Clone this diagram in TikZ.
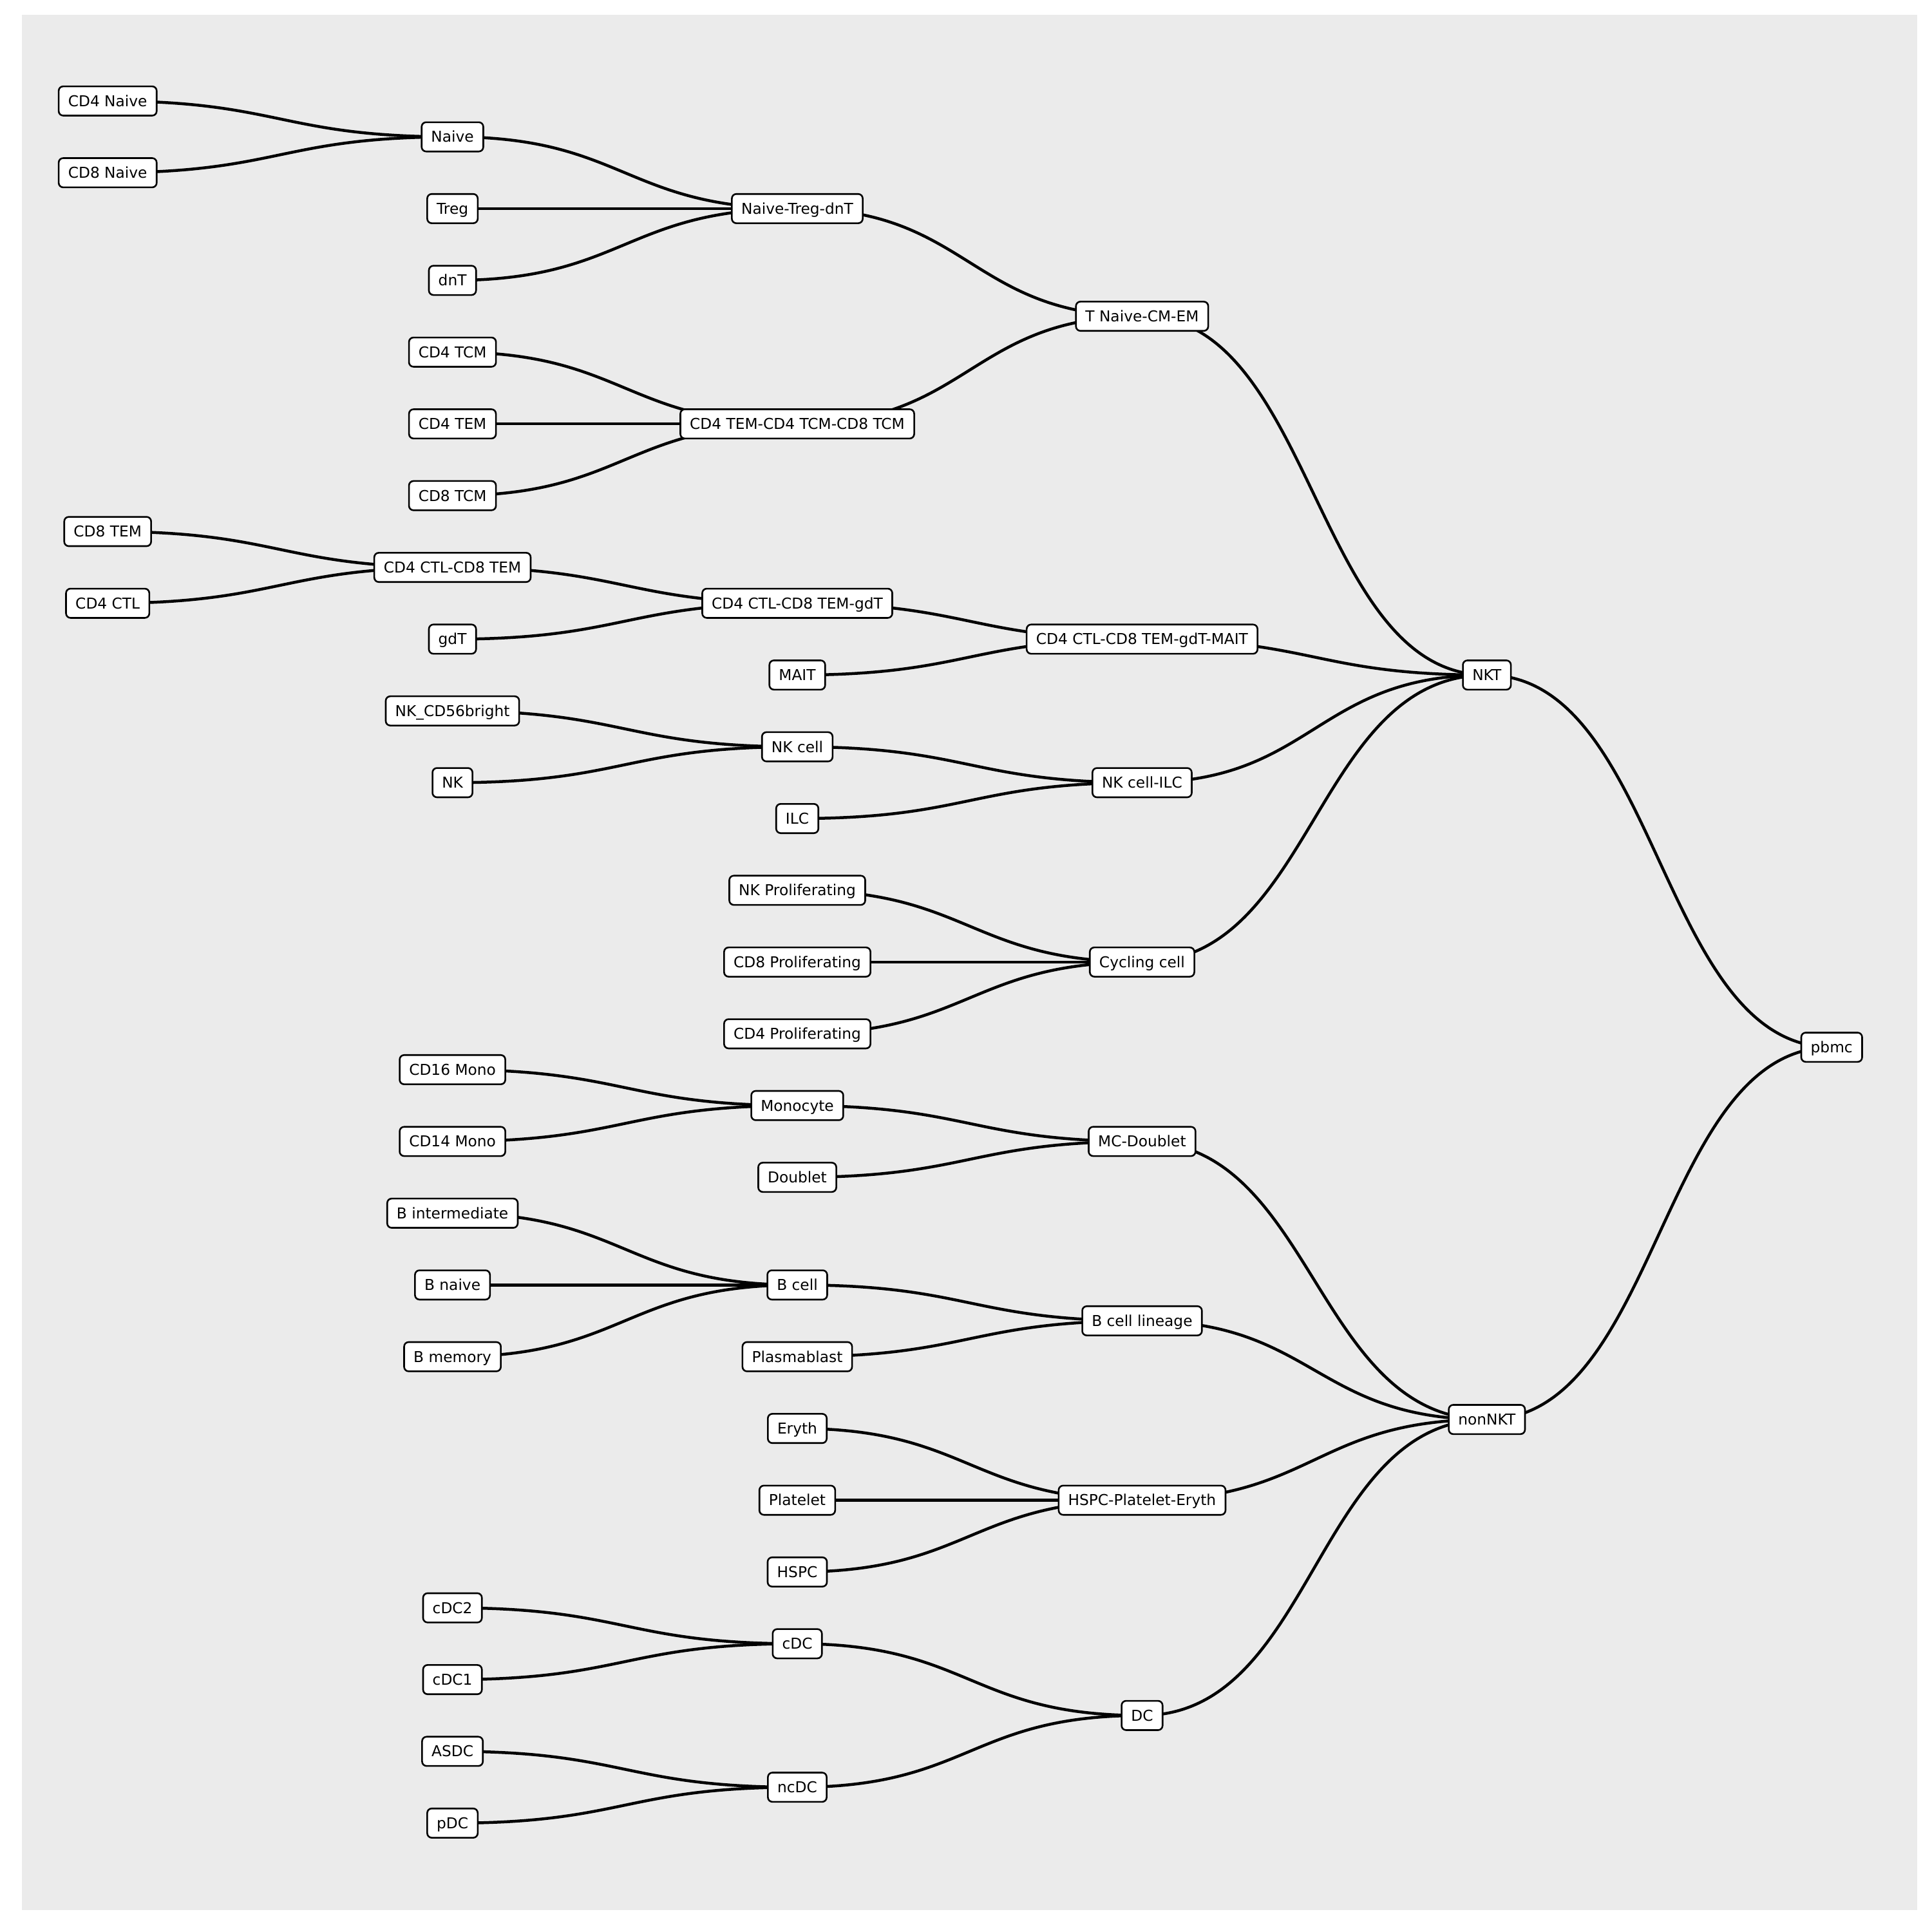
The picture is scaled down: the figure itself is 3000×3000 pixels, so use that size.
\documentclass[tikz,border=0pt]{standalone}
\usepackage{fontspec}
\setmainfont{DejaVu Sans}
\pgfdeclarelayer{bglayer}
\pgfdeclarelayer{edgelayer}
\pgfsetlayers{bglayer,edgelayer,main}
\definecolor{panelgray}{RGB}{235,235,235}
\tikzset{
  box/.style={draw=black, fill=white, line width=2.6pt, rounded corners=7pt,
    inner xsep=14.7pt, inner ysep=0pt, minimum height=45.4pt,
    text height=16.9pt, text depth=0pt,
    font=\fontsize{23.3pt}{28pt}\selectfont},
  edge/.style={draw=black, line width=4.5pt}
}
\newcommand{\cx}[1]{167.2+535.4*#1}
\newcommand{\ry}[1]{156.8+55.71*#1}
\begin{document}
\begin{tikzpicture}[x=1pt,y=-1pt]
\useasboundingbox (0,0) rectangle (3000,3000);
\begin{pgfonlayer}{bglayer}
\fill[panelgray] (34,23) rectangle (2977,2966);
\end{pgfonlayer}
% column 0
\node[box] (cd4naive) at ({\cx{0}},{\ry{0}}) {CD4 Naive};
\node[box] (cd8naive) at ({\cx{0}},{\ry{2}}) {CD8 Naive};
\node[box] (cd8tem) at ({\cx{0}},{\ry{12}}) {CD8 TEM};
\node[box] (cd4ctl) at ({\cx{0}},{\ry{14}}) {CD4 CTL};
% column 1
\node[box] (naive) at ({\cx{1}},{\ry{1}}) {Naive};
\node[box] (treg) at ({\cx{1}},{\ry{3}}) {Treg};
\node[box] (dnt) at ({\cx{1}},{\ry{5}}) {dnT};
\node[box] (cd4tcm) at ({\cx{1}},{\ry{7}}) {CD4 TCM};
\node[box] (cd4tem) at ({\cx{1}},{\ry{9}}) {CD4 TEM};
\node[box] (cd8tcm) at ({\cx{1}},{\ry{11}}) {CD8 TCM};
\node[box] (ctltem) at ({\cx{1}},{\ry{13}}) {CD4 CTL-CD8 TEM};
\node[box] (gdt) at ({\cx{1}},{\ry{15}}) {gdT};
\node[box] (nkbright) at ({\cx{1}},{\ry{17}}) {NK\_CD56bright};
\node[box] (nk) at ({\cx{1}},{\ry{19}}) {NK};
\node[box] (cd16) at ({\cx{1}},{\ry{27}}) {CD16 Mono};
\node[box] (cd14) at ({\cx{1}},{\ry{29}}) {CD14 Mono};
\node[box] (bint) at ({\cx{1}},{\ry{31}}) {B intermediate};
\node[box] (bnaive) at ({\cx{1}},{\ry{33}}) {B naive};
\node[box] (bmem) at ({\cx{1}},{\ry{35}}) {B memory};
\node[box] (cdc2) at ({\cx{1}},{\ry{42}}) {cDC2};
\node[box] (cdc1) at ({\cx{1}},{\ry{44}}) {cDC1};
\node[box] (asdc) at ({\cx{1}},{\ry{46}}) {ASDC};
\node[box] (pdc) at ({\cx{1}},{\ry{48}}) {pDC};
% column 2
\node[box] (ntd) at ({\cx{2}},{\ry{3}}) {Naive-Treg-dnT};
\node[box] (tcm) at ({\cx{2}},{\ry{9}}) {CD4 TEM-CD4 TCM-CD8 TCM};
\node[box] (ctltemgdt) at ({\cx{2}},{\ry{14}}) {CD4 CTL-CD8 TEM-gdT};
\node[box] (mait) at ({\cx{2}},{\ry{16}}) {MAIT};
\node[box] (nkcell) at ({\cx{2}},{\ry{18}}) {NK cell};
\node[box] (ilc) at ({\cx{2}},{\ry{20}}) {ILC};
\node[box] (nkprol) at ({\cx{2}},{\ry{22}}) {NK Proliferating};
\node[box] (cd8prol) at ({\cx{2}},{\ry{24}}) {CD8 Proliferating};
\node[box] (cd4prol) at ({\cx{2}},{\ry{26}}) {CD4 Proliferating};
\node[box] (mono) at ({\cx{2}},{\ry{28}}) {Monocyte};
\node[box] (doublet) at ({\cx{2}},{\ry{30}}) {Doublet};
\node[box] (bcell) at ({\cx{2}},{\ry{33}}) {B cell};
\node[box] (plasma) at ({\cx{2}},{\ry{35}}) {Plasmablast};
\node[box] (eryth) at ({\cx{2}},{\ry{37}}) {Eryth};
\node[box] (platelet) at ({\cx{2}},{\ry{39}}) {Platelet};
\node[box] (hspc) at ({\cx{2}},{\ry{41}}) {HSPC};
\node[box] (cdc) at ({\cx{2}},{\ry{43}}) {cDC};
\node[box] (ncdc) at ({\cx{2}},{\ry{47}}) {ncDC};
% column 3
\node[box] (tncmem) at ({\cx{3}},{\ry{6}}) {T Naive-CM-EM};
\node[box] (ctlmait) at ({\cx{3}},{\ry{15}}) {CD4 CTL-CD8 TEM-gdT-MAIT};
\node[box] (nkilc) at ({\cx{3}},{\ry{19}}) {NK cell-ILC};
\node[box] (cycling) at ({\cx{3}},{\ry{24}}) {Cycling cell};
\node[box] (mcd) at ({\cx{3}},{\ry{29}}) {MC-Doublet};
\node[box] (blin) at ({\cx{3}},{\ry{34}}) {B cell lineage};
\node[box] (hpe) at ({\cx{3}},{\ry{39}}) {HSPC-Platelet-Eryth};
\node[box] (dc) at ({\cx{3}},{\ry{45}}) {DC};
% column 4
\node[box] (nkt) at ({\cx{4}},{\ry{16}}) {NKT};
\node[box] (nonnkt) at ({\cx{4}},{\ry{36.75}}) {nonNKT};
% column 5
\node[box] (pbmc) at ({\cx{5}},{\ry{26.375}}) {pbmc};
% edges
\begin{pgfonlayer}{edgelayer}
\foreach \a/\b in {cd4naive/naive, cd8naive/naive, naive/ntd, treg/ntd, dnt/ntd,
  ntd/tncmem, cd4tcm/tcm, cd4tem/tcm, cd8tcm/tcm, tcm/tncmem, tncmem/nkt,
  cd8tem/ctltem, cd4ctl/ctltem, ctltem/ctltemgdt, gdt/ctltemgdt,
  ctltemgdt/ctlmait, mait/ctlmait, ctlmait/nkt, nkbright/nkcell, nk/nkcell,
  nkcell/nkilc, ilc/nkilc, nkilc/nkt, nkprol/cycling, cd8prol/cycling,
  cd4prol/cycling, cycling/nkt, nkt/pbmc, cd16/mono, cd14/mono, mono/mcd,
  doublet/mcd, mcd/nonnkt, bint/bcell, bnaive/bcell, bmem/bcell, bcell/blin,
  plasma/blin, blin/nonnkt, eryth/hpe, platelet/hpe, hspc/hpe, hpe/nonnkt,
  cdc2/cdc, cdc1/cdc, cdc/dc, asdc/ncdc, pdc/ncdc, ncdc/dc, dc/nonnkt,
  nonnkt/pbmc}
  \draw[edge] (\a.center) .. controls +(267.7,0) and +(-267.7,0) .. (\b.center);
\end{pgfonlayer}
\end{tikzpicture}
\end{document}
